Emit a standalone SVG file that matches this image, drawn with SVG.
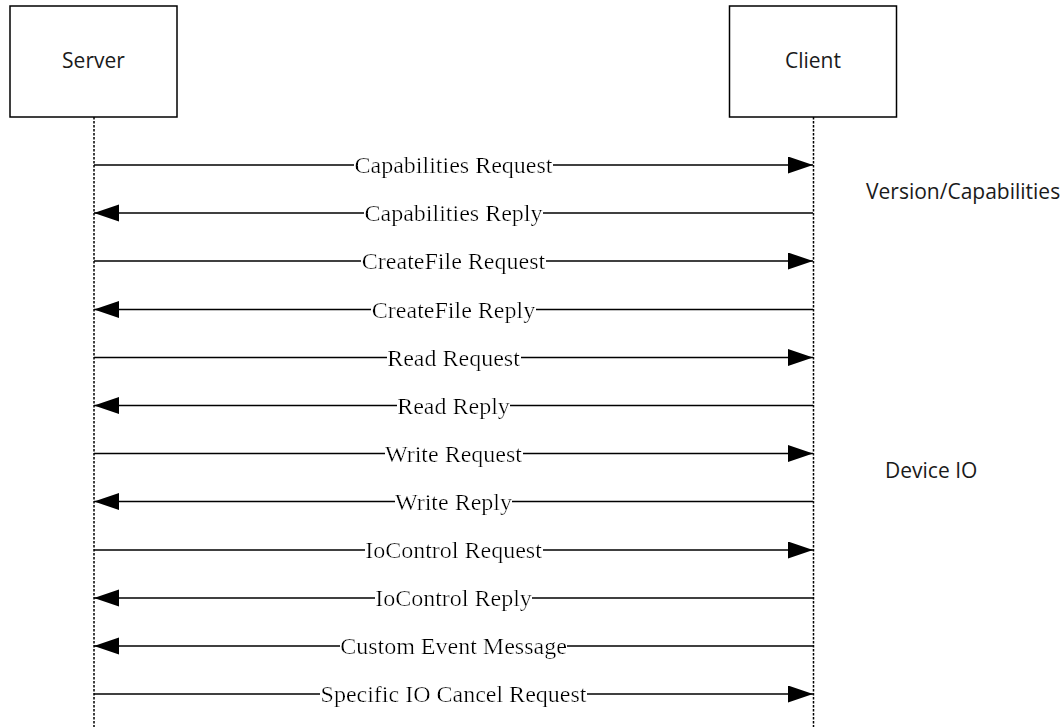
<svg xmlns="http://www.w3.org/2000/svg" width="1063" height="727" viewBox="0 0 1063 727">
  <style>
    .box { fill: #ffffff; stroke: #000000; stroke-width: 1.5; }
    .life { fill: none; stroke: #000000; stroke-width: 1.5; stroke-dasharray: 2.5 1.5; }
    .msg { fill: none; stroke: #000000; stroke-width: 1.6; }
    .name { font-family: "Open Sans", "Noto Sans", sans-serif; font-size: 21px; fill: #1a1a1a; text-anchor: middle; }
    .note { font-family: "Open Sans", "Noto Sans", sans-serif; font-size: 21px; fill: #1a1a1a; }
    .lbl { font-family: "Liberation Serif", "Times New Roman", serif; font-size: 24px; fill: #000000; text-anchor: middle; dominant-baseline: central; }
  </style>
  <defs>
    <marker id="arrow" markerUnits="userSpaceOnUse" markerWidth="26" markerHeight="18" refX="25" refY="8.5" orient="auto">
      <path d="M0,0 L25,8.5 L0,17 Z" fill="#000000"/>
    </marker>
    <!-- white box behind message labels so the line stops at the text -->
    <filter id="knockout" x="0" y="0" width="1" height="1">
      <feFlood flood-color="#ffffff"/>
      <feComposite in="SourceGraphic" operator="over"/>
    </filter>
  </defs>
  <rect width="1063" height="727" fill="#ffffff"/>

  <g id="server">
    <rect class="box" x="10" y="6" width="167" height="111"/>
    <text class="name" x="93.5" y="68">Server</text>
    <line class="life" x1="94" y1="117" x2="94" y2="727"/>
  </g>

  <g id="client">
    <rect class="box" x="729.5" y="6" width="167" height="111"/>
    <text class="name" x="813" y="68">Client</text>
    <line class="life" x1="813.5" y1="117" x2="813.5" y2="727"/>
  </g>

  <g id="phase-labels">
    <text class="note" x="866" y="199">Version/Capabilities</text>
    <text class="note" x="885" y="478">Device IO</text>
  </g>

  <g id="messages">
    <line class="msg" x1="94" y1="165" x2="813" y2="165" marker-end="url(#arrow)"/>
    <line class="msg" x1="813" y1="213" x2="94" y2="213" marker-end="url(#arrow)"/>
    <line class="msg" x1="94" y1="261" x2="813" y2="261" marker-end="url(#arrow)"/>
    <line class="msg" x1="813" y1="309.5" x2="94" y2="309.5" marker-end="url(#arrow)"/>
    <line class="msg" x1="94" y1="357.5" x2="813" y2="357.5" marker-end="url(#arrow)"/>
    <line class="msg" x1="813" y1="405.5" x2="94" y2="405.5" marker-end="url(#arrow)"/>
    <line class="msg" x1="94" y1="453.5" x2="813" y2="453.5" marker-end="url(#arrow)"/>
    <line class="msg" x1="813" y1="501.5" x2="94" y2="501.5" marker-end="url(#arrow)"/>
    <line class="msg" x1="94" y1="550" x2="813" y2="550" marker-end="url(#arrow)"/>
    <line class="msg" x1="813" y1="598" x2="94" y2="598" marker-end="url(#arrow)"/>
    <line class="msg" x1="813" y1="646" x2="94" y2="646" marker-end="url(#arrow)"/>
    <line class="msg" x1="94" y1="694" x2="813" y2="694" marker-end="url(#arrow)"/>

    <g filter="url(#knockout)"><text class="lbl" x="453.5" y="165">Capabilities Request</text></g>
    <g filter="url(#knockout)"><text class="lbl" x="453.5" y="213">Capabilities Reply</text></g>
    <g filter="url(#knockout)"><text class="lbl" x="453.5" y="261">CreateFile Request</text></g>
    <g filter="url(#knockout)"><text class="lbl" x="453.5" y="309.5">CreateFile Reply</text></g>
    <g filter="url(#knockout)"><text class="lbl" x="453.5" y="357.5">Read Request</text></g>
    <g filter="url(#knockout)"><text class="lbl" x="453.5" y="405.5">Read Reply</text></g>
    <g filter="url(#knockout)"><text class="lbl" x="453.5" y="453.5">Write Request</text></g>
    <g filter="url(#knockout)"><text class="lbl" x="453.5" y="501.5">Write Reply</text></g>
    <g filter="url(#knockout)"><text class="lbl" x="453.5" y="550">IoControl Request</text></g>
    <g filter="url(#knockout)"><text class="lbl" x="453.5" y="598">IoControl Reply</text></g>
    <g filter="url(#knockout)"><text class="lbl" x="453.5" y="646">Custom Event Message</text></g>
    <g filter="url(#knockout)"><text class="lbl" x="453.5" y="694">Specific IO Cancel Request</text></g>
  </g>
</svg>
